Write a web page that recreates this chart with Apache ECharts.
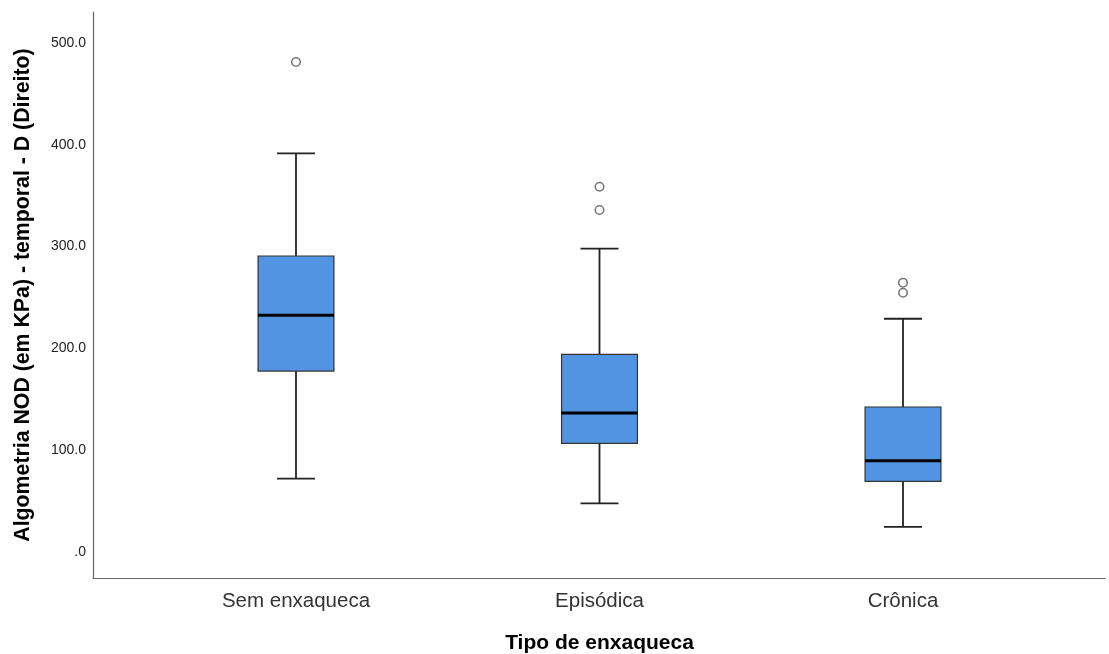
<!DOCTYPE html>
<html>
<head>
<meta charset="utf-8">
<script src="https://cdn.jsdelivr.net/npm/echarts@6/dist/echarts.min.js"></script>
<style>
  html, body { margin: 0; padding: 0; background: #fff; }
  #chart { width: 1109px; height: 654px; }
</style>
</head>
<body>
<div id="chart"></div>
<script>
const categories = ['Sem enxaqueca', 'Episódica', 'Crônica'];
const whiskerLow = [72.0, 47.8, 24.8];
const q1 = [177.7, 106.7, 69.4];
const median = [232.4, 136.5, 89.7];
const q3 = [290.7, 194.1, 142.4];
const whiskerHigh = [391.5, 297.9, 229.1];
const outliers = [[0, 481.2], [1, 358.7], [1, 335.9], [2, 264.5], [2, 254.6]];
const yTicks = [0, 100, 200, 300, 400, 500];
const yMin = -25.5, yMax = 530.3;

const boxData = categories.map((c, i) => [i, whiskerLow[i], q1[i], median[i], q3[i], whiskerHigh[i]]);
const outlierData = outliers.map(o => [o[0], o[1]]);

const FONT = '"Liberation Sans", Arial, sans-serif';

const chart = echarts.init(document.getElementById('chart'));
chart.setOption({
  animation: false,
  backgroundColor: '#ffffff',
  grid: [
    { left: 144.25, right: 54.25, top: 12, bottom: 76, outerBoundsMode: 'none', containLabel: false },
    { left: 93, right: 4, top: 12, bottom: 76, outerBoundsMode: 'none', containLabel: false }
  ],
  xAxis: [
    {
      gridIndex: 0, type: 'category', data: categories, boundaryGap: true,
      axisLine: { show: false, onZero: false }, axisTick: { show: false },
      axisLabel: { fontFamily: FONT, fontSize: 20.5, color: '#333', margin: 13 },
      name: 'Tipo de enxaqueca', nameLocation: 'middle', nameGap: 55,
      nameTextStyle: { fontFamily: FONT, fontSize: 21, fontWeight: 'bold', color: '#000' }
    },
    {
      gridIndex: 1, type: 'value', min: 0, max: 1,
      axisLine: { show: true, onZero: false, lineStyle: { color: '#666', width: 1.2 } },
      axisTick: { show: false }, axisLabel: { show: false }, splitLine: { show: false }
    }
  ],
  yAxis: [
    { gridIndex: 0, type: 'value', min: yMin, max: yMax, show: false, splitLine: { show: false } },
    {
      gridIndex: 1, type: 'value', min: yMin, max: yMax,
      axisLine: { show: true, onZero: false, lineStyle: { color: '#666', width: 1.2 } },
      axisTick: { show: false },
      splitLine: { show: false },
      axisLabel: {
        customValues: yTicks,
        fontFamily: FONT, fontSize: 14, color: '#222', margin: 7,
        formatter: v => (v === 0 ? '.0' : v.toFixed(1))
      },
      name: 'Algometria NOD (em KPa) - temporal - D (Direito)',
      nameLocation: 'middle', nameGap: 59,
      nameTextStyle: { fontFamily: FONT, fontSize: 21.3, fontWeight: 'bold', color: '#000' }
    }
  ],
  series: [
    {
      type: 'custom', xAxisIndex: 0, yAxisIndex: 0,
      data: boxData,
      encode: { x: 0, y: [1, 2, 3, 4, 5] },
      renderItem: function (params, api) {
        const idx = api.value(0);
        const lo = api.coord([idx, api.value(1)]);
        const b1 = api.coord([idx, api.value(2)]);
        const md = api.coord([idx, api.value(3)]);
        const b3 = api.coord([idx, api.value(4)]);
        const hi = api.coord([idx, api.value(5)]);
        const bw = api.size([1, 0])[0] * 0.25;
        const cw = bw / 2;
        const x = lo[0];
        const ws = { stroke: '#222', lineWidth: 1.8 };
        return {
          type: 'group',
          children: [
            { type: 'line', shape: { x1: x, y1: hi[1], x2: x, y2: b3[1] }, style: ws },
            { type: 'line', shape: { x1: x, y1: b1[1], x2: x, y2: lo[1] }, style: ws },
            { type: 'line', shape: { x1: x - cw / 2, y1: hi[1], x2: x + cw / 2, y2: hi[1] }, style: ws },
            { type: 'line', shape: { x1: x - cw / 2, y1: lo[1], x2: x + cw / 2, y2: lo[1] }, style: ws },
            { type: 'rect', shape: { x: x - bw / 2, y: b3[1], width: bw, height: b1[1] - b3[1] },
              style: { fill: '#5294e2', stroke: '#333', lineWidth: 1.2 } },
            { type: 'line', shape: { x1: x - bw / 2, y1: md[1], x2: x + bw / 2, y2: md[1] },
              style: { stroke: '#000', lineWidth: 3 } }
          ]
        };
      }
    },
    {
      type: 'scatter', xAxisIndex: 0, yAxisIndex: 0,
      data: outlierData,
      symbol: 'circle', symbolSize: 8.5,
      itemStyle: { color: '#fff', borderColor: '#555', borderWidth: 1.6 }
    }
  ]
});
</script>
</body>
</html>
